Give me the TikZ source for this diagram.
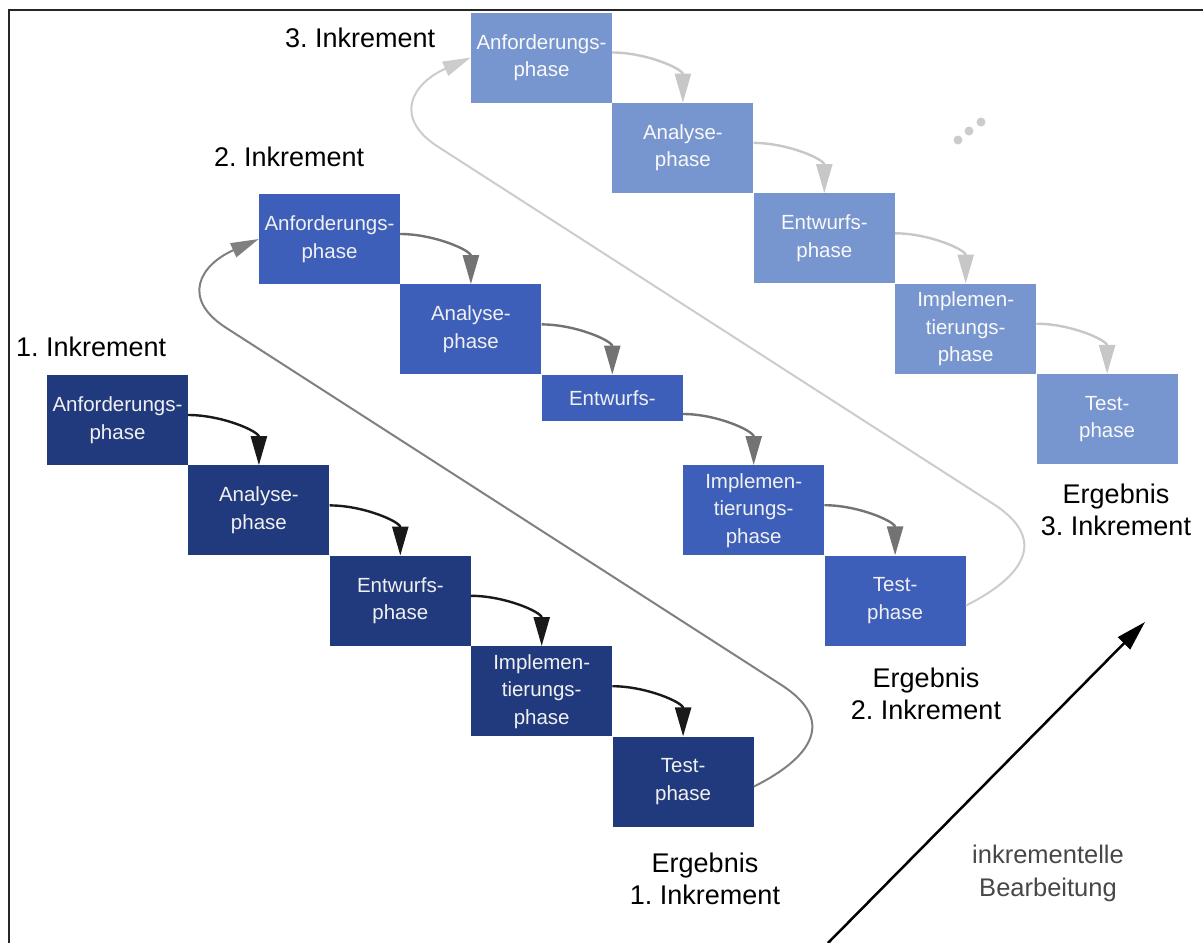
\documentclass[tikz,border=0pt]{standalone}
\usepackage{fontspec}
\setmainfont{Liberation Sans}
\usepackage{tikz}
\usetikzlibrary{positioning,arrows.meta}
\definecolor{incA}{HTML}{213A7E}
\definecolor{incB}{HTML}{3D5FBA}
\definecolor{incC}{HTML}{7795CE}
\frenchspacing

\begin{document}
\begin{tikzpicture}[x=1pt,y=1pt,
box/.style={minimum width=141pt,minimum height=90pt,inner sep=0pt,align=center,text=white!88!gray,font=\fontsize{20.5}{27.5}\selectfont},
head/.style={inner sep=0pt,align=center,font=\fontsize{27}{32}\selectfont},
stepA/.style={line width=2.4pt,black!90,-{Triangle[length=29pt,width=16pt]}},
stepB/.style={line width=2.4pt,black!55,-{Triangle[length=29pt,width=16pt]}},
stepC/.style={line width=2.4pt,black!22,-{Triangle[length=29pt,width=16pt]}},
loopA/.style={line width=2pt,black!50,-{Triangle[length=28pt,width=15pt]}},
loopB/.style={line width=2pt,black!20,-{Triangle[length=28pt,width=15pt]}}]
\useasboundingbox (0,0) rectangle (1203,-943);
\draw[line width=2.2pt,black!85] (1203,-10)--(9,-10)--(9,-943);

% 1. Inkrement
\node[head,anchor=west] (h1) at (16,-347) {1. Inkrement};
\node[box,fill=incA] (anf1) at (117.5,-420) {Anforderungs-\\phase};
\node[box,fill=incA,below right=0pt and 0pt of anf1] (ana1) {Analyse-\\phase};
\node[box,fill=incA,below right=0pt and 0pt of ana1] (ent1) {Entwurfs-\\phase};
\node[box,fill=incA,below right=0pt and 0pt of ent1] (imp1) {Implemen-\\tierungs-\\phase};
\node[box,fill=incA,below right=0pt and 0pt of imp1] (tst1) {Test-\\phase};
\node[head] (erg1) at (705,-879) {Ergebnis\\1. Inkrement};

% 2. Inkrement
\node[head,anchor=west] (h2) at (214,-157) {2. Inkrement};
\node[box,fill=incB] (anf2) at (329.5,-239) {Anforderungs-\\phase};
\node[box,fill=incB,below right=0pt and 0pt of anf2] (ana2) {Analyse-\\phase};
\node[box,fill=incB,minimum height=46pt,below right=0pt and 0pt of ana2] (ent2) {Entwurfs-};
\node[box,fill=incB,below right=44pt and 0pt of ent2] (imp2) {Implemen-\\tierungs-\\phase};
\node[box,fill=incB,below right=0pt and 0pt of imp2] (tst2) {Test-\\phase};
\node[head] (erg2) at (926,-694) {Ergebnis\\2. Inkrement};

% 3. Inkrement
\node[head,anchor=west] (h3) at (285,-38) {3. Inkrement};
\node[box,fill=incC,text=white!95!gray] (anf3) at (541.5,-57.5) {Anforderungs-\\phase};
\node[box,fill=incC,text=white!95!gray,below right=0pt and 0pt of anf3] (ana3) {Analyse-\\phase};
\node[box,fill=incC,text=white!95!gray,below right=0pt and 0pt of ana3] (ent3) {Entwurfs-\\phase};
\node[box,fill=incC,text=white!95!gray,below right=0pt and 0pt of ent3] (imp3) {Implemen-\\tierungs-\\phase};
\node[box,fill=incC,text=white!95!gray,below right=0pt and 0pt of imp3] (tst3) {Test-\\phase};
\node[head] (erg3) at (1116,-510) {Ergebnis\\3. Inkrement};

% Phasenuebergaenge
\draw[stepA] ([yshift=5pt]anf1.east) to[out=0,in=90] (ana1.north);
\draw[stepA] ([yshift=5pt]ana1.east) to[out=0,in=90] (ent1.north);
\draw[stepA] ([yshift=5pt]ent1.east) to[out=0,in=90] (imp1.north);
\draw[stepA] ([yshift=5pt]imp1.east) to[out=0,in=90] (tst1.north);
\draw[stepB] ([yshift=5pt]anf2.east) to[out=0,in=90] (ana2.north);
\draw[stepB] ([yshift=5pt]ana2.east) to[out=0,in=90] (ent2.north);
\draw[stepB] ([yshift=7pt]ent2.south east) to[out=0,in=90] (imp2.north);
\draw[stepB] ([yshift=5pt]imp2.east) to[out=0,in=90] (tst2.north);
\draw[stepC] ([yshift=5pt]anf3.east) to[out=0,in=90] (ana3.north);
\draw[stepC] ([yshift=5pt]ana3.east) to[out=0,in=90] (ent3.north);
\draw[stepC] ([yshift=5pt]ent3.east) to[out=0,in=90] (imp3.north);
\draw[stepC] ([yshift=5pt]imp3.east) to[out=0,in=90] (tst3.north);

% Rueckfuehrung
\draw[loopA] ([yshift=-5pt]tst1.east) .. controls +(60,30) and +(55,-35) .. ++(27,102) -- ++(-555,357) .. controls +(-45,29) and +(-59,-26) .. (anf2.west);
\draw[loopB] ([yshift=-5pt]tst2.east) .. controls +(60,30) and +(55,-35) .. ++(27,102) -- ++(-555,357) .. controls +(-45,29) and +(-59,-26) .. (anf3.west);
\fill[black!20] (958,-140) circle (4.5pt) (969,-131) circle (4.5pt) (981,-122) circle (4.5pt);

% inkrementelle Bearbeitung
\coordinate (pa) at (828,-943);
\coordinate (pb) at (1145,-622);
\draw[line width=2.5pt,-{Triangle[length=30pt,width=17pt]}] (pa)--(pb);
\node[inner sep=0pt,align=center,text=black!72,font=\fontsize{25.5}{33}\selectfont] (bearb) at (1048,-873) {inkrementelle\\Bearbeitung};
\end{tikzpicture}
\end{document}
